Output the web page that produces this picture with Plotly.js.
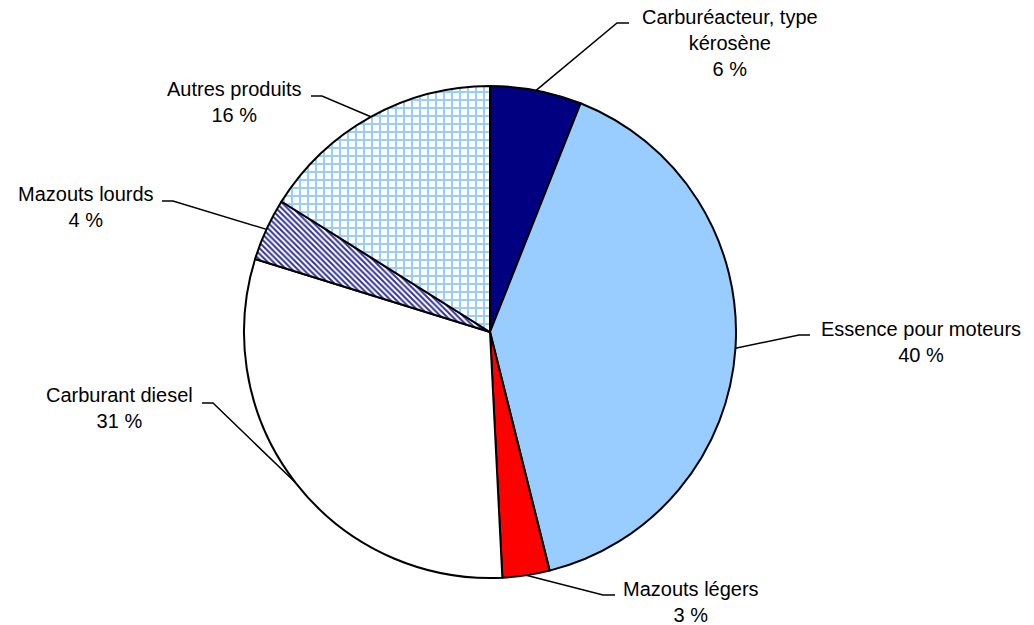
<!DOCTYPE html>
<html>
<head>
<meta charset="utf-8">
<script src="https://cdn.plot.ly/plotly-3.0.1.min.js"></script>
<style>html,body{margin:0;padding:0;background:#fff;}#chart{width:1034px;height:625px;}</style>
</head>
<body>
<div id="chart"></div>
<script>
// Data (clockwise from 12 o'clock)
var categories = ["Carburéacteur, type kérosène", "Essence pour moteurs", "Mazouts légers", "Carburant diesel", "Mazouts lourds", "Autres produits"];
var values = [6.0, 40.1, 3.1, 30.6, 4.1, 16.1];
var pctLabels = ["6 %", "40 %", "3 %", "31 %", "4 %", "16 %"];
var labelText = ["Carburéacteur, type<br>kérosène", "Essence pour moteurs", "Mazouts légers", "Carburant diesel", "Mazouts lourds", "Autres produits"];

// Styles / layout
var W = 1034, H = 625;
var CX = 490, CY = 332, R = 246;
var fillColors = ["#000080", "#99CCFF", "#FF0000", "#FFFFFF", "#FFFFFF", "#FFFFFF"];
var patShapes = ["", "", "", "", "\\", "+"];
var patFg = ["#000", "#000", "#000", "#000", "#333399", "#99CCFF"];
var patSize = [8, 8, 8, 8, 4, 8];
var patSolid = [0.3, 0.3, 0.3, 0.3, 0.5, 0.45];
// label block centres (px) and leader elbow / end (px)
var labelPos = [[730, 43], [921, 342], [691, 602], [119, 408], [86, 207], [234, 102]];
var elbow = [[617, 23], [799, 335], [603, 595], [213, 403], [173, 201], [322, 96]];
var tail = [[629, 23], [810, 335], [615, 595], [202, 403], [162, 201], [311, 96]];

function px(x) { return x / W; }
function py(y) { return 1 - y / H; }

var trace = {
  type: "pie",
  labels: categories,
  values: values,
  sort: false,
  direction: "clockwise",
  rotation: 0,
  textinfo: "none",
  hoverinfo: "none",
  showlegend: false,
  domain: {x: [px(CX - R), px(CX + R)], y: [py(CY + R), py(CY - R)]},
  marker: {
    colors: fillColors,
    line: {color: "#000000", width: 2},
    pattern: {shape: patShapes, fgcolor: patFg, bgcolor: fillColors, size: patSize, solidity: patSolid, fillmode: "replace"}
  }
};

var total = values.reduce(function(a, b) { return a + b; }, 0);
var shapes = [], annotations = [];
var cum = 0;
for (var i = 0; i < values.length; i++) {
  var mid = (cum + values[i] / 2) / total;
  cum += values[i];
  var th = mid * 2 * Math.PI;
  var ex = CX + R * Math.sin(th), ey = CY - R * Math.cos(th);
  shapes.push({
    type: "path", xref: "paper", yref: "paper",
    path: "M " + px(ex) + "," + py(ey) + " L " + px(elbow[i][0]) + "," + py(elbow[i][1]) + " L " + px(tail[i][0]) + "," + py(tail[i][1]),
    line: {color: "#000", width: 1.5}
  });
  annotations.push({
    xref: "paper", yref: "paper", x: px(labelPos[i][0]), y: py(labelPos[i][1]),
    xanchor: "center", yanchor: "middle", showarrow: false, align: "center",
    text: labelText[i] + "<br>" + pctLabels[i],
    font: {family: "Liberation Sans, Arial, sans-serif", size: 20, color: "#000"}
  });
}

var layout = {
  width: W, height: H,
  margin: {l: 0, r: 0, t: 0, b: 0, pad: 0},
  paper_bgcolor: "#fff", plot_bgcolor: "#fff",
  shapes: shapes,
  annotations: annotations
};

Plotly.newPlot("chart", [trace], layout, {displayModeBar: false, staticPlot: true});
</script>
</body>
</html>
